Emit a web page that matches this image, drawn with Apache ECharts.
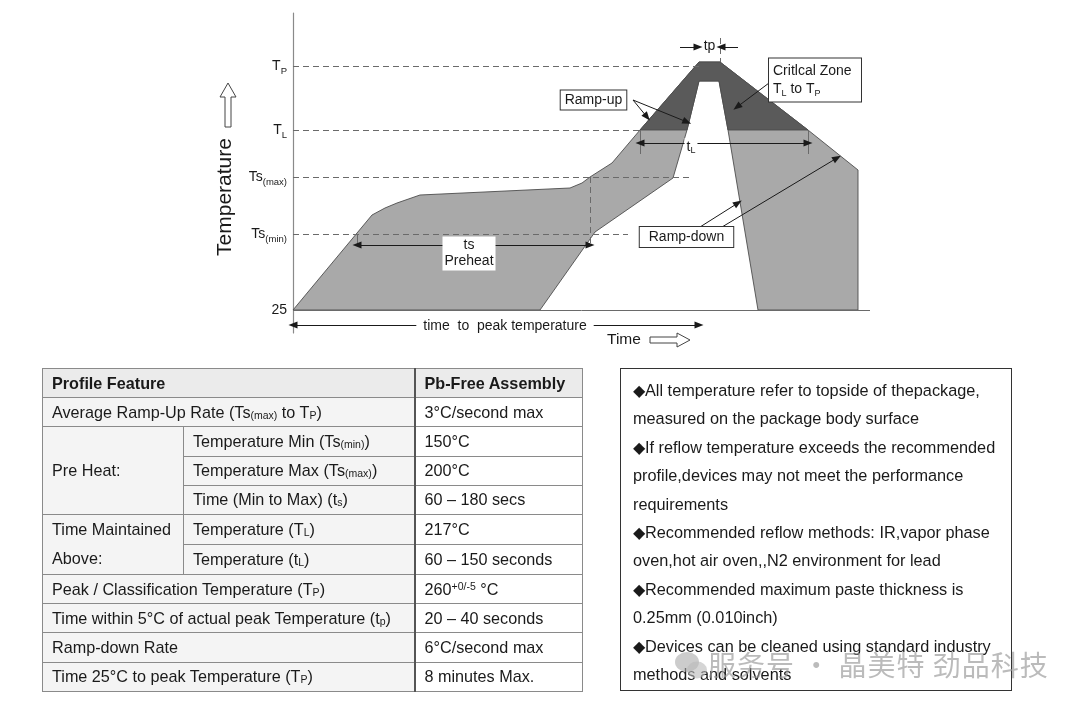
<!DOCTYPE html>
<html>
<head>
<meta charset="utf-8">
<script src="https://cdn.jsdelivr.net/npm/echarts/dist/echarts.min.js"></script>
<style>
  html, body { margin:0; padding:0; background:#fff; }
  #wrap { position:relative; width:1080px; height:709px; overflow:hidden; font-family:"Liberation Sans", Arial, sans-serif; color:#1a1a1a; }
  #chart { position:absolute; left:0; top:0; width:1080px; height:709px; }
  #tbl { position:absolute; left:42px; top:368px; width:540px; border-collapse:collapse; table-layout:fixed; font-size:16.2px; }
  #tbl td, #tbl th { border:1px solid #8a8a8a; height:28.2px; padding:0 0 0 9px; text-align:left; white-space:nowrap; vertical-align:middle; }
  #tbl th { background:#ebebeb; font-weight:bold; }
  #tbl td.g { background:#f4f4f4; }
  #tbl td.v, #tbl th.v { border-left:2px solid #555; background:#fff; }
  #tbl th.v { background:#ebebeb; }
  #tbl td.two { line-height:29.5px; }
  #tbl sub { font-size:10.5px; vertical-align:-1px; }
  #tbl sup { font-size:10.5px; vertical-align:5px; line-height:0; }
  #notes { position:absolute; left:620px; top:368px; width:392px; height:323px; border:1.5px solid #333; box-sizing:border-box; padding:7px 0 0 12px; font-size:16.3px; line-height:28.4px; color:#1a1a1a; white-space:nowrap; }
  #wm { position:absolute; left:708px; top:647px; font-family:"Noto Sans CJK SC", sans-serif; font-size:28px; letter-spacing:1px; line-height:34px; color:rgba(150,150,150,0.65); white-space:nowrap; }
  #wmicon { position:absolute; left:674px; top:650px; }
</style>
</head>
<body>
<div id="wrap">
  <div id="chart"></div>
  <table id="tbl">
    <colgroup><col style="width:141px"><col style="width:231px"><col style="width:168px"></colgroup>
    <tbody id="tbody"></tbody>
  </table>
  <div id="notes"></div>
  <svg id="wmicon" width="36" height="32"><ellipse cx="13" cy="12" rx="12" ry="10" fill="rgba(170,170,170,0.6)"/><ellipse cx="23" cy="20" rx="10" ry="8.5" fill="rgba(185,185,185,0.6)"/></svg>
  <div id="wm">服务号 · 晶美特 劲品科技</div>
</div>
<script>
// ---------- schematic data (x: time units, y: temperature level units) ----------
const tempLevels    = [0, 76, 133, 180, 244];
const tempLabelMain = ['25', 'Ts', 'Ts', 'T', 'T'];
const tempLabelSub  = ['', '(min)', '(max)', 'L', 'P'];

// upper envelope of the profile band (fast profile), left to right
const outerProfile = [[0,0],[79,95],[92,102],[104,107],[127,115],[277,122],[289,127],[297,133],[319,147],[347,180],[406,248],[427,248],[515,180],[565,140],[565,0]];
// lower envelope (slow profile), right to left
const innerProfile = [[465,0],[435,180],[426,229],[406,229],[394,180],[380,132],[302,78],[247,0]];
const criticalLevel = 180; // TL

// guide lines: [x1, y1, x2, y2, dash]
const guideLines = [
  [0,244,406,244,'dashed'],
  [0,180,347,180,'dashed'],
  [0,133,400,133,'dashed'],
  [0,76,335,76,'dashed'],
  [406,272,406,-27,'dashed'],
  [427,272,427,248,'dashed'],
  [297,133,297,65,'dashed'],
  [64,76,64,65,'solid'],
  [347,180,347,156,'solid'],
  [515,180,515,156,'solid'],
  [0,0,577,0,'solid']
];
// arrows: [x1, y1, x2, y2, heads(1=end, 2=both)]
const arrowLines = [
  [64,65,297,65,2],
  [0,-15,406,-15,2],
  [347,167,515,167,2],
  [387,263,405,263,1],
  [445,263,428,263,1],
  [340,210,354,193,1],
  [340,210,394,188,1],
  [480,230,444,203,1],
  [407,83,445,107,1],
  [429,83,544,152,1]
];
// annotation texts
const annoText = ['{a|Ramp-up}', '{l|Critlcal Zone}\n{l|T}{ls|L}{l| to T}{ls|P}', '{a|Ramp-down}', '{a|ts}\n{a|Preheat}', '{a|time  to  peak temperature}', '{a|tp}', '{a|t}{s|L}'];
const annoPos  = [[300.5,210],[522,230],[393.5,73],[176,56.5],[212,-16],[416.5,264],[398,163]];
const annoKind = ['box','box','box','fill','fill','plain','fill'];

// table
const tableRows = [
  [['th','Profile Feature',2],['thv','Pb-Free Assembly']],
  [['g','Average Ramp-Up Rate (Ts<sub>(max)</sub> to T<sub>P</sub>)',2],['v','3°C/second max']],
  [['g','Pre Heat:',1,3],['g','Temperature Min (Ts<sub>(min)</sub>)'],['v','150°C']],
  [['g','Temperature Max (Ts<sub>(max)</sub>)'],['v','200°C']],
  [['g','Time (Min to Max) (t<sub>s</sub>)'],['v','60 – 180 secs']],
  [['g two','Time Maintained<br>Above:',1,2],['g','Temperature (T<sub>L</sub>)'],['v','217°C']],
  [['g','Temperature (t<sub>L</sub>)'],['v','60 – 150 seconds']],
  [['g','Peak / Classification Temperature (T<sub>P</sub>)',2],['v','260<sup>+0/-5</sup> °C']],
  [['g','Time within 5°C of actual peak Temperature (t<sub>p</sub>)',2],['v','20 – 40 seconds']],
  [['g','Ramp-down Rate',2],['v','6°C/second max']],
  [['g','Time 25°C to peak Temperature (T<sub>P</sub>)',2],['v','8 minutes Max.']]
];
const noteLines = [
  '◆All temperature refer to topside of thepackage,',
  'measured on the package body surface',
  '◆If reflow temperature exceeds the recommended',
  'profile,devices may not meet the performance',
  'requirements',
  '◆Recommended reflow methods: IR,vapor phase',
  'oven,hot air oven,,N2 environment for lead',
  '◆Recommended maximum paste thickness is',
  '0.25mm (0.010inch)',
  '◆Devices can be cleaned using standard industry',
  'methods and solvents'
];

// ---------- build table & notes ----------
let html = '';
tableRows.forEach(r => {
  html += '<tr>';
  r.forEach(c => {
    const cls = c[0];
    const cs = c[2] ? ' colspan="' + c[2] + '"' : '';
    const rs = c[3] ? ' rowspan="' + c[3] + '"' : '';
    if (cls === 'th') html += '<th' + cs + '>' + c[1] + '</th>';
    else if (cls === 'thv') html += '<th class="v">' + c[1] + '</th>';
    else html += '<td class="' + cls + '"' + cs + rs + '>' + c[1] + '</td>';
  });
  html += '</tr>';
});
document.getElementById('tbody').innerHTML = html;
document.getElementById('notes').innerHTML = noteLines.map(s => '<div>' + s + '</div>').join('');

// ---------- geometry helpers ----------
const bandPolygon = outerProfile.concat(innerProfile);
function clipAbove(poly, level) {
  const out = [];
  for (let i = 0; i < poly.length; i++) {
    const a = poly[i], b = poly[(i + 1) % poly.length];
    const ain = a[1] >= level, bin = b[1] >= level;
    if (ain) out.push(a);
    if (ain !== bin) {
      const t = (level - a[1]) / (b[1] - a[1]);
      out.push([a[0] + t * (b[0] - a[0]), level]);
    }
  }
  return out;
}
const criticalPolygon = clipAbove(bandPolygon, criticalLevel);

const FONT = '"Liberation Sans", Arial, sans-serif';
const TXT = '#1a1a1a';

const markData = [];
guideLines.forEach(g => {
  const ls = { color: '#6a6a6a', width: 1, type: g[4] === 'dashed' ? [6, 4] : 'solid' };
  markData.push([{ coord: [g[0], g[1]], symbol: 'none', lineStyle: ls }, { coord: [g[2], g[3]], symbol: 'none', lineStyle: ls }]);
});
arrowLines.forEach(a => {
  const ls = { color: '#1a1a1a', width: 1, type: 'solid' };
  markData.push([{ coord: [a[0], a[1]], symbol: a[4] === 2 ? 'triangle' : 'none', lineStyle: ls },
                 { coord: [a[2], a[3]], symbol: 'triangle', lineStyle: ls }]);
});

const richBase = {
  a: { fontSize: 14, color: TXT, fontFamily: FONT, lineHeight: 16 },
  s: { fontSize: 9, color: TXT, fontFamily: FONT, verticalAlign: 'bottom', lineHeight: 10 },
  l: { fontSize: 14, color: TXT, fontFamily: FONT, lineHeight: 18, align: 'left' },
  ls: { fontSize: 9, color: TXT, fontFamily: FONT, lineHeight: 12, verticalAlign: 'bottom', align: 'left' }
};
const annoData = annoPos.map((p, i) => {
  const k = annoKind[i];
  const lab = { show: true, position: 'inside', formatter: annoText[i], rich: richBase, color: TXT, opacity: 1 };
  if (k === 'box') {
    Object.assign(lab, { backgroundColor: '#fff', borderColor: '#333', borderWidth: 1, padding: i === 1 ? [4, 6, 3, 4] : [2, 4, 1, 4] });
    if (i === 1) lab.width = 82;
    if (i === 2) lab.padding = [2, 9, 2, 9];
  } else if (k === 'fill') {
    Object.assign(lab, { backgroundColor: '#fff', padding: i === 4 ? [0, 7] : [1, 2] });
  }
  return { value: p, label: lab };
});

const chart = echarts.init(document.getElementById('chart'), null, { renderer: 'canvas' });
chart.setOption({
  animation: false,
  backgroundColor: 'transparent',
  textStyle: { fontFamily: FONT },
  grid: { left: 293, right: 187, top: 13, bottom: 376, outerBoundsMode: 'none', containLabel: false },
  xAxis: { type: 'value', min: 0, max: 600, show: false },
  yAxis: {
    type: 'value', min: -23, max: 297,
    axisLine: { show: true, lineStyle: { color: '#8a8a8a', width: 1.2 } },
    axisTick: { show: false },
    splitLine: { show: false },
    axisLabel: {
      customValues: tempLevels,
      margin: 6,
      formatter: function (v) {
        const i = tempLevels.indexOf(v);
        if (i < 0) return '';
        return '{m|' + tempLabelMain[i] + '}' + (tempLabelSub[i] ? '{s|' + tempLabelSub[i] + '}' : '');
      },
      rich: {
        m: { fontSize: 14, color: TXT, fontFamily: FONT, lineHeight: 20 },
        s: { fontSize: 9.5, color: TXT, fontFamily: FONT, lineHeight: 11, verticalAlign: 'bottom' }
      }
    }
  },
  series: [
    {
      type: 'custom', z: 2, silent: true, clip: false,
      data: [[0, 0]],
      renderItem: function (params, api) {
        return {
          type: 'group',
          children: [
            { type: 'polygon', shape: { points: bandPolygon.map(p => api.coord(p)) }, style: { fill: '#a9a9a9', stroke: '#4d4d4d', lineWidth: 0.9 } },
            { type: 'polygon', shape: { points: criticalPolygon.map(p => api.coord(p)) }, style: { fill: '#5a5a5a', stroke: '#4d4d4d', lineWidth: 0.9 } }
          ]
        };
      }
    },
    {
      type: 'line', data: [], silent: true,
      markLine: {
        silent: true, animation: false, symbolSize: [7, 9], label: { show: false },
        emphasis: { disabled: true },
        data: markData
      }
    },
    {
      type: 'scatter', z: 10, silent: true, symbol: 'circle', symbolSize: 0,
      itemStyle: { color: 'rgba(0,0,0,0)' },
      labelLayout: { hideOverlap: false },
      data: annoData
    }
  ],
  graphic: [
    { type: 'text', x: 225, y: 197, rotation: Math.PI / 2, style: { text: 'Temperature', fontSize: 21, fontFamily: FONT, fill: TXT, align: 'center', verticalAlign: 'middle' } },
    { type: 'polygon', shape: { points: [[225, 127], [231, 127], [231, 97], [236, 97], [228, 83], [220, 97], [225, 97]] }, style: { fill: '#fff', stroke: '#444', lineWidth: 1 } },
    { type: 'text', x: 607, y: 340, style: { text: 'Time', fontSize: 15.5, fontFamily: FONT, fill: TXT, align: 'left', verticalAlign: 'middle' } },
    { type: 'polygon', shape: { points: [[650, 337], [677, 337], [677, 333], [690, 340], [677, 347], [677, 343], [650, 343]] }, style: { fill: '#fff', stroke: '#444', lineWidth: 1 } }
  ]
});
</script>
</body>
</html>
